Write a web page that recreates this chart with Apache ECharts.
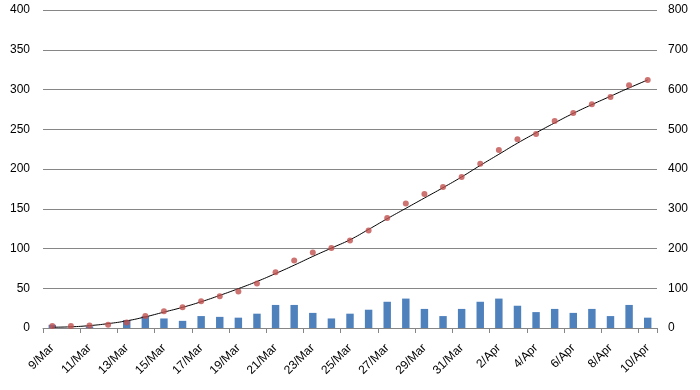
<!DOCTYPE html>
<html>
<head>
<meta charset="utf-8">
<script src="https://cdn.jsdelivr.net/npm/echarts@6/dist/echarts.min.js"></script>
<style>html,body{margin:0;padding:0;background:#fff}#c{width:700px;height:390px}</style>
</head>
<body>
<div id="c"></div>
<script>
const categories = ["9/Mar","10/Mar","11/Mar","12/Mar","13/Mar","14/Mar","15/Mar","16/Mar","17/Mar","18/Mar","19/Mar","20/Mar","21/Mar","22/Mar","23/Mar","24/Mar","25/Mar","26/Mar","27/Mar","28/Mar","29/Mar","30/Mar","31/Mar","1/Apr","2/Apr","3/Apr","4/Apr","5/Apr","6/Apr","7/Apr","8/Apr","9/Apr","10/Apr"];
const dailyValues = [4,0,2,0,10,15,12,9,15,14,13,18,29,29,19,12,18,23,33,37,24,15,24,33,37,28,20,24,19,24,15,29,13];
const cumulativeValues = [5,5,6,8,14,30,42,52,67,80,92,112,140,170,190,201,220,245,277,313,337,355,380,413,448,475,488,521,541,563,581,611,624];
const trendValues = [2,3,6,11,18,28,40,52,66,82,99,117,137,158,180,201,222,248,275,301,327,353,380,409,437,465,491,516,540,562,583,604,624];
const leftTicks = {min:0, max:400, interval:50};
const rightTicks = {min:0, max:800, interval:100};

const font = {fontFamily:'Liberation Sans', fontSize:12, color:'#000'};
const chart = echarts.init(document.getElementById('c'), null, {renderer:'canvas'});
chart.setOption({
  animation:false,
  grid:{left:43, right:43, top:10, bottom:62, containLabel:false},
  xAxis:{
    type:'category', data:categories, boundaryGap:true,
    axisLine:{lineStyle:{color:'#868686', width:1}},
    axisTick:{show:true, interval:1, length:5, lineStyle:{color:'#868686'}},
    axisLabel:Object.assign({interval:1, rotate:45, margin:18}, font),
    splitLine:{show:false}
  },
  yAxis:[
    {type:'value', min:leftTicks.min, max:leftTicks.max, interval:leftTicks.interval,
     axisLine:{show:false}, axisTick:{show:false},
     axisLabel:Object.assign({margin:13}, font),
     splitLine:{show:true, lineStyle:{color:'#868686', width:1}}},
    {type:'value', min:rightTicks.min, max:rightTicks.max, interval:rightTicks.interval,
     position:'right',
     axisLine:{show:false}, axisTick:{show:false},
     axisLabel:Object.assign({margin:11}, font),
     splitLine:{show:false}}
  ],
  series:[
    {type:'bar', data:dailyValues, yAxisIndex:0, barWidth:'40%',
     itemStyle:{color:'#4F81BD'}},
    {type:'line', data:trendValues, yAxisIndex:1, smooth:true, showSymbol:false,
     lineStyle:{color:'#000', width:1}, z:3},
    {type:'scatter', data:cumulativeValues, yAxisIndex:1, symbol:'circle', symbolSize:6,
     itemStyle:{color:'#C0504D'}, z:4}
  ]
});
</script>
</body>
</html>
